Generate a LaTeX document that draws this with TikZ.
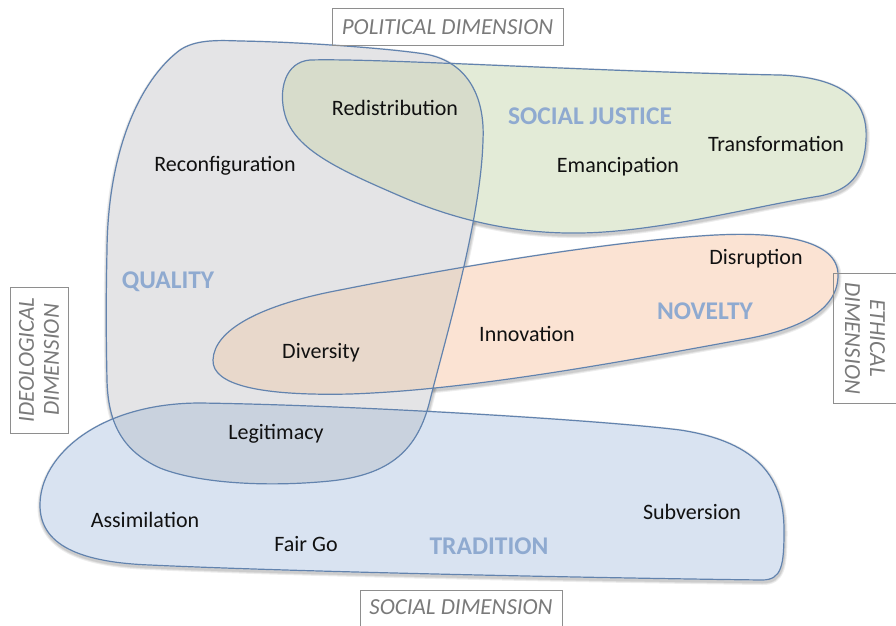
\documentclass[tikz,border=0pt]{standalone}
\usepackage{fontspec}
\setmainfont{Carlito}
\definecolor{qualityfill}{HTML}{E4E4E6}
\definecolor{justicefill}{HTML}{E3EBD7}
\definecolor{noveltyfill}{HTML}{FBE3D3}
\definecolor{traditionfill}{HTML}{D9E3F1}
\definecolor{redistfill}{HTML}{D7DCCB}
\definecolor{diversityfill}{HTML}{E8D8CB}
\definecolor{legitfill}{HTML}{C9D2DE}
\definecolor{rim}{HTML}{6283AE}
\definecolor{catblue}{HTML}{8FAAD0}
\definecolor{dimgray}{HTML}{7A7A7A}
\definecolor{boxgray}{HTML}{8E8E8E}
\definecolor{ink}{HTML}{111111}

% outlines of the four themes
\newcommand\qualityoutline{(240,41) .. controls (300,42) and (385,48) .. (425,54)
  .. controls (470,62) and (485,100) .. (483,140)
  .. controls (481,220) and (445,340) .. (430,400)
  .. controls (418,450) and (390,475) .. (330,481)
  .. controls (270,487) and (200,484) .. (160,468)
  .. controls (120,450) and (108,420) .. (107,380)
  .. controls (106,330) and (106,300) .. (107,250)
  .. controls (108,150) and (140,80) .. (180,50)
  .. controls (195,40) and (215,40) .. (240,41) -- cycle}
\newcommand\justiceoutline{(310,60) .. controls (380,58) and (600,72) .. (780,75)
  .. controls (850,78) and (868,105) .. (866,140)
  .. controls (864,175) and (850,190) .. (820,196)
  .. controls (760,205) and (660,232) .. (580,233)
  .. controls (520,234) and (460,222) .. (400,196)
  .. controls (340,170) and (295,150) .. (285,115)
  .. controls (278,90) and (285,62) .. (310,60) -- cycle}
\newcommand\noveltyoutline{(700,236) .. controls (780,230) and (838,240) .. (838,275)
  .. controls (838,310) and (800,330) .. (740,340)
  .. controls (620,362) and (470,390) .. (350,394)
  .. controls (260,396) and (212,385) .. (213,360)
  .. controls (214,330) and (260,305) .. (340,290)
  .. controls (450,268) and (600,243) .. (700,236) -- cycle}
\newcommand\traditionoutline{(200,403) .. controls (350,405) and (600,420) .. (680,430)
  .. controls (760,442) and (784,480) .. (784,530)
  .. controls (784,565) and (782,580) .. (762,580)
  .. controls (600,578) and (300,572) .. (150,565)
  .. controls (70,562) and (40,540) .. (40,505)
  .. controls (40,455) and (100,403) .. (200,403) -- cycle}

\begin{document}
\begin{tikzpicture}[x=1pt,y=-1pt,
  rimline/.style={draw=rim,line width=1.2pt},
  softshadow/.style={draw=black,line width=#1,draw opacity=0.07,shift={(0.5,2)}},
  term/.style={text=ink,font=\fontsize{22}{26}\selectfont,inner sep=0pt},
  theme/.style={text=catblue,font=\fontsize{25.5}{28}\selectfont\bfseries,inner sep=0pt},
  dimbox/.style={draw=boxgray,line width=0.9pt,text=dimgray,
    font=\fontsize{23}{25}\selectfont\itshape,align=center,inner sep=0pt}]
\useasboundingbox (0,0) rectangle (896,625);
\clip (0,0) rectangle (896,625);
\fill[white] (0,0) rectangle (896,625);

% soft shadows under the theme areas
\foreach \w in {6pt,4pt,2.5pt}{
  \path[softshadow=\w] \qualityoutline;
  \path[softshadow=\w] \justiceoutline;
  \path[softshadow=\w] \noveltyoutline;
  \path[softshadow=\w] \traditionoutline;
}

% theme areas
\fill[qualityfill] \qualityoutline;
\fill[justicefill] \justiceoutline;
\fill[noveltyfill] \noveltyoutline;
\fill[traditionfill] \traditionoutline;
\begin{scope}
  \clip \qualityoutline;
  \fill[redistfill] \justiceoutline;
  \fill[diversityfill] \noveltyoutline;
  \fill[legitfill] \traditionoutline;
\end{scope}
\path[rimline] \qualityoutline;
\path[rimline] \justiceoutline;
\path[rimline] \noveltyoutline;
\path[rimline] \traditionoutline;

% theme names
\node[theme] (justice) at (590,116) {SOCIAL JUSTICE};
\node[theme] (quality) at (168,282) {QUALITY};
\node[theme] (novelty) at (705,311) {NOVELTY};
\node[theme] (tradition) at (489,546) {TRADITION};

% terms
\node[term] (redistribution) at (395,108) {Redistribution};
\node[term] (reconfiguration) at (225,166) {Reconfiguration};
\node[term] (emancipation) at (618,167) {Emancipation};
\node[term] (transformation) at (776,144) {Transformation};
\node[term] (disruption) at (756,259) {Disruption};
\node[term] (innovation) at (527,334) {Innovation};
\node[term] (diversity) at (321,353) {Diversity};
\node[term] (legitimacy) at (276,434) {Legitimacy};
\node[term] (assimilation) at (145,520) {Assimilation};
\node[term] (fairgo) at (306,544) {Fair Go};
\node[term] (subversion) at (692,512) {Subversion};

% dimension labels
\node[dimbox,minimum width=231pt,minimum height=37pt] (political) at (447.5,27) {POLITICAL DIMENSION};
\node[dimbox,minimum width=202pt,minimum height=40pt] (social) at (461,610) {\raisebox{6pt}{SOCIAL DIMENSION}};
\node[dimbox,rotate=90,minimum width=146pt,minimum height=58pt] (ideological) at (39,360) {IDEOLOGICAL\\DIMENSION};
\node[dimbox,rotate=-90,minimum width=130pt,minimum height=64pt] (ethical) at (865,338) {ETHICAL\\DIMENSION};
\end{tikzpicture}
\end{document}
